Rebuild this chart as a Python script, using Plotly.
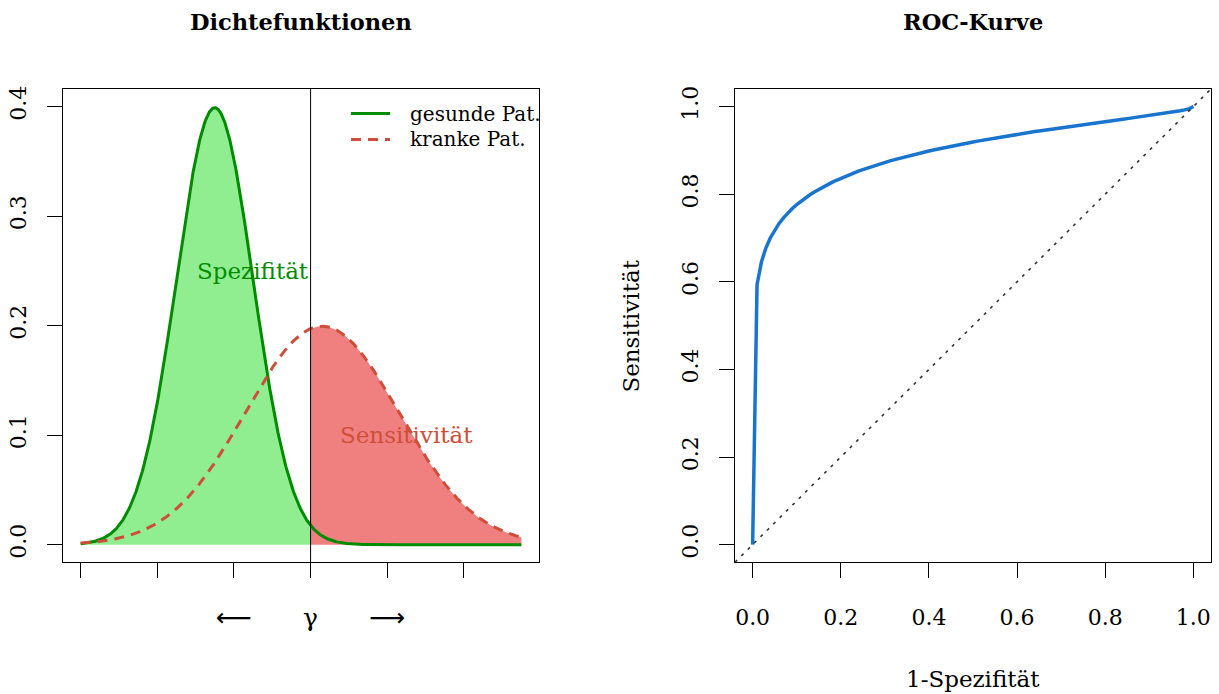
import numpy as np
from math import erfc, sqrt
import plotly.graph_objects as go

# Distribution parameters of the two patient groups and the cut-off
HEALTHY_MEAN = 0.0
HEALTHY_SD = 1.0
SICK_MEAN = 2.8
SICK_SD = 2.0
CUTOFF = 2.5
X_MIN, X_MAX = -3.5, 8.0
FPR_STEP = 0.01

DENSITY_XTICKS = [-3.5, -1.5, 0.5, 2.5, 4.5, 6.5]
DENSITY_YTICKS = [0.0, 0.1, 0.2, 0.3, 0.4]
ROC_TICKS = [0.0, 0.2, 0.4, 0.6, 0.8, 1.0]
LEGEND_LABELS = ["gesunde Pat.", "kranke Pat."]

GREEN = "#008B00"
RED = "#CD4F39"
BLUE = "#1874CD"
FONT = "DejaVu Serif"

W, H = 1219, 694


def npdf(x, m, s):
    return np.exp(-0.5 * ((x - m) / s) ** 2) / (s * np.sqrt(2 * np.pi))


def upper_tail(t, m, s):
    return 0.5 * erfc((t - m) / (s * sqrt(2)))


def upper_quantile(p, m, s):
    """Threshold t with P(X > t) = p, found by bisection."""
    if p <= 0:
        return np.inf
    if p >= 1:
        return -np.inf
    lo, hi = m - 40 * s, m + 40 * s
    for _ in range(200):
        mid = 0.5 * (lo + hi)
        if upper_tail(mid, m, s) > p:
            lo = mid
        else:
            hi = mid
    return 0.5 * (lo + hi)


x = np.linspace(X_MIN, X_MAX, 1151)
f_healthy = npdf(x, HEALTHY_MEAN, HEALTHY_SD)
f_sick = npdf(x, SICK_MEAN, SICK_SD)

left = x <= CUTOFF
right = x >= CUTOFF

# ROC: sensitivity at each false-positive rate of the grid
fpr = np.round(np.arange(0, 1 + FPR_STEP / 2, FPR_STEP), 10)
tpr = []
for p in fpr:
    t = upper_quantile(p, HEALTHY_MEAN, HEALTHY_SD)
    if np.isinf(t):
        tpr.append(0.0 if t > 0 else 1.0)
    else:
        tpr.append(upper_tail(t, SICK_MEAN, SICK_SD))
tpr = np.array(tpr)

fig = go.Figure()

# shaded areas
fig.add_trace(go.Scatter(x=x[left], y=f_healthy[left], mode="lines", fill="tozeroy",
                         fillcolor="#90EE90", line=dict(width=0), hoverinfo="skip",
                         showlegend=False, xaxis="x", yaxis="y"))
fig.add_trace(go.Scatter(x=x[right], y=f_sick[right], mode="lines", fill="tozeroy",
                         fillcolor="#F08080", line=dict(width=0), hoverinfo="skip",
                         showlegend=False, xaxis="x", yaxis="y"))
# density curves
fig.add_trace(go.Scatter(x=x, y=f_healthy, mode="lines", name=LEGEND_LABELS[0],
                         line=dict(color=GREEN, width=3), showlegend=False,
                         xaxis="x", yaxis="y"))
fig.add_trace(go.Scatter(x=x, y=f_sick, mode="lines", name=LEGEND_LABELS[1],
                         line=dict(color=RED, width=3, dash="10px,7px"), showlegend=False,
                         xaxis="x", yaxis="y"))

# ROC curve
fig.add_trace(go.Scatter(x=fpr, y=tpr, mode="lines", line=dict(color=BLUE, width=3.5),
                         showlegend=False, xaxis="x2", yaxis="y2"))

xl = [63 / W, 539 / W]
xr = [735 / W, 1211 / W]
yd = [1 - 561.6 / H, 1 - 86.4 / H]

xspan = X_MAX - X_MIN
axis_common = dict(showline=True, mirror=True, linecolor="black", linewidth=1,
                   ticks="outside", ticklen=15, tickcolor="black", tickwidth=1,
                   showgrid=False, zeroline=False,
                   tickfont=dict(family=FONT, size=22, color="black"))

fig.update_layout(
    width=W, height=H, margin=dict(l=0, r=0, t=0, b=0),
    paper_bgcolor="white", plot_bgcolor="white",
    xaxis=dict(domain=xl, range=[X_MIN - 0.04 * xspan, X_MAX + 0.04 * xspan],
               tickvals=DENSITY_XTICKS, showticklabels=False, anchor="y", **axis_common),
    yaxis=dict(domain=yd, range=[-0.016, 0.416], tickvals=DENSITY_YTICKS,
               ticktext=[f"{v:.1f}" for v in DENSITY_YTICKS], tickangle=-90,
               ticklabelstandoff=12, anchor="x", **axis_common),
    xaxis2=dict(domain=xr, range=[-0.04, 1.04], tickvals=ROC_TICKS,
                ticktext=[f"{v:.1f}" for v in ROC_TICKS], ticklabelstandoff=20,
                anchor="y2", **axis_common),
    yaxis2=dict(domain=yd, range=[-0.04, 1.04], tickvals=ROC_TICKS,
                ticktext=[f"{v:.1f}" for v in ROC_TICKS], tickangle=-90,
                ticklabelstandoff=12, anchor="x2", **axis_common),
)

shapes = [
    # cut-off line
    dict(type="line", xref="x", yref="y domain", x0=CUTOFF, x1=CUTOFF, y0=0, y1=1,
         line=dict(color="black", width=1)),
    # diagonal of the ROC plot
    dict(type="line", xref="x2", yref="y2", x0=-0.04, y0=-0.04, x1=1.04, y1=1.04,
         line=dict(color="#333333", width=1.6, dash="3px,6px")),
    # legend keys
    dict(type="line", xref="paper", yref="paper", x0=351 / W, x1=390 / W,
         y0=1 - 111 / H, y1=1 - 111 / H, line=dict(color=GREEN, width=3)),
    dict(type="line", xref="paper", yref="paper", x0=351 / W, x1=390 / W,
         y0=1 - 137 / H, y1=1 - 137 / H, line=dict(color=RED, width=3, dash="10px,7px")),
]
fig.update_layout(shapes=shapes)

ann = []


def text(x, y, s, size=23, color="black", xref="paper", yref="paper", bold=False,
         angle=0, xanchor="center", yanchor="middle", family=FONT):
    ann.append(dict(x=x, y=y, xref=xref, yref=yref, text=f"<b>{s}</b>" if bold else s,
                    showarrow=False, textangle=angle, xanchor=xanchor, yanchor=yanchor,
                    font=dict(family=family, size=size, color=color)))


text(301 / W, 1 - 19 / H, "Dichtefunktionen", size=22.5, bold=True)
text(973 / W, 1 - 19 / H, "ROC-Kurve", size=22.5, bold=True)
text(1.0, 0.25, "Spezifität", color=GREEN, xref="x", yref="y")
text(5.0, 0.10, "Sensitivität", color=RED, xref="x", yref="y")
text(408 / W, 1 - 111 / H, LEGEND_LABELS[0], size=20, xanchor="left")
text(408 / W, 1 - 137 / H, LEGEND_LABELS[1], size=20, xanchor="left")
text(DENSITY_XTICKS[2], 1 - 617 / H, "⟵", size=25, xref="x", family="DejaVu Sans")
text(CUTOFF, 1 - 617 / H, "γ", size=25, xref="x")
text(DENSITY_XTICKS[4], 1 - 617 / H, "⟶", size=25, xref="x", family="DejaVu Sans")
text(973 / W, 0.0, "1-Spezifität", size=23, yanchor="bottom")
text(631 / W, 1 - 324 / H, "Sensitivität", size=23, angle=-90)
fig.update_layout(annotations=ann)

fig.write_html("out.html")
